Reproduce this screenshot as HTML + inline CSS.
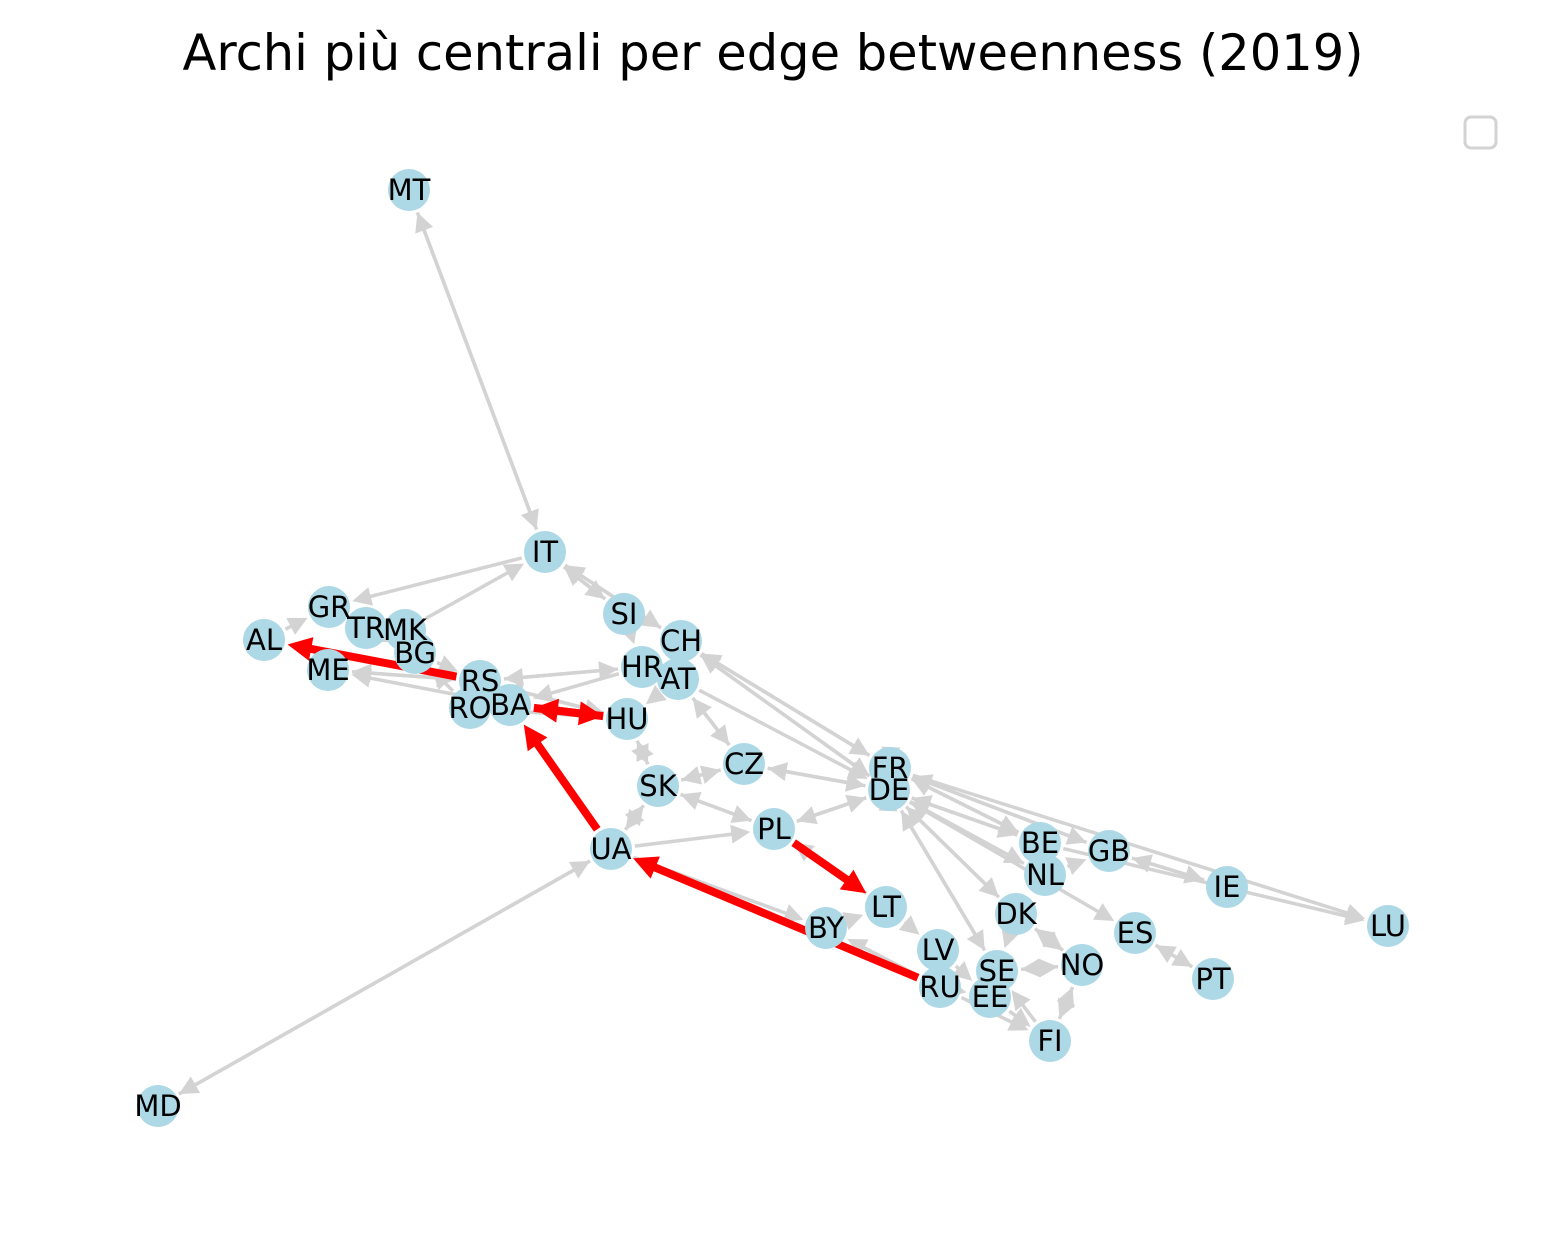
<!DOCTYPE html>
<html><head><meta charset="utf-8"><style>
html,body{margin:0;padding:0;background:#fff}
svg{display:block}
text{font-family:"DejaVu Sans","Liberation Sans",sans-serif}
</style></head><body>
<svg id="chart" width="1548" height="1233" viewBox="0 0 1548 1233">
<rect width="1548" height="1233" fill="#fff"/>
<text x="773" y="70" font-size="49.5" text-anchor="middle">Archi più centrali per edge betweenness (2019)</text>
<rect x="1465" y="117" width="31" height="31" rx="6" fill="#fff" stroke="#d3d3d3" stroke-width="3"/>
<g id="edges"></g><g id="nodes"></g>
</svg>
<script>
const nodeIds=["MT","IT","SI","CH","GR","TR","MK","AL","BG","ME","RS","HR","AT","RO","BA","HU","CZ","FR","DE","SK","PL","UA","BE","GB","NL","IE","LT","LU","BY","DK","ES","LV","NO","SE","PT","RU","EE","FI","MD"];
const layoutX=[409,545,624,681,329,366,405,264,415,328,480,642,678,470,510,627,744,890,889,658,774,611,1040,1109,1045,1227,886,1388,826,1016,1135,938,1082,997,1213,940,990,1050,158];
const layoutY=[190,552,614,641,607,628,630,640,653,670,681,667,679,708,705,719,764,768,790,786,829,849,843,851,875,887,907,926,928,914,933,950,965,971,979,987,997,1041,1106];
const grayEdges=[["MT","IT"],["IT","MT"],["UA","MD"],["MD","UA"],["IT","GR"],["MK","IT"],["SI","IT"],["IT","SI"],["CH","IT"],["IT","CH"],["CH","FR"],["CH","DE"],["DE","CH"],["AT","DE"],["FR","CH"],["HR","RS"],["RS","HR"],["HR","BA"],["HU","RS"],["RS","HU"],["HU","SK"],["SK","HU"],["UA","SK"],["SK","UA"],["UA","PL"],["UA","BY"],["CZ","SK"],["SK","CZ"],["DE","CZ"],["CZ","DE"],["PL","DE"],["DE","PL"],["PL","SK"],["SK","PL"],["BY","LT"],["LT","LV"],["LV","EE"],["EE","FI"],["FI","SE"],["SE","NO"],["NO","SE"],["NO","DK"],["DK","NO"],["DE","DK"],["DK","DE"],["DE","NL"],["NL","DE"],["DE","BE"],["BE","DE"],["FR","BE"],["BE","FR"],["FR","GB"],["GB","FR"],["GB","IE"],["IE","GB"],["DE","ES"],["ES","PT"],["PT","ES"],["FR","LU"],["BE","LU"],["NL","GB"],["NO","FI"],["FI","NO"],["DE","SE"],["SE","DE"],["RU","LV"],["RU","FI"],["RU","EE"],["AL","GR"],["RS","ME"],["ME","RS"],["BG","RS"],["RO","BG"],["HU","RO"],["BA","ME"],["AT","HU"],["HR","AT"],["CZ","AT"],["AT","CZ"],["SI","HR"],["MK","BG"],["TR","BG"],["BG","TR"],["DK","SE"],["LT","PL"],["RU","BY"],["FR","DE"],["DE","FR"]];
const redEdges=[["RS","AL"],["HU","BA"],["BA","HU"],["UA","BA"],["PL","LT"],["RU","UA"]];
const NS="http://www.w3.org/2000/svg";
function px(id){return layoutX[nodeIds.indexOf(id)];}
function py(id){return layoutY[nodeIds.indexOf(id)];}
const eg=document.getElementById('edges'),ng=document.getElementById('nodes');
function drawEdge(a,b,color,w,ah){
 const x1=px(a),y1=py(a),x2=px(b),y2=py(b);
 const dx=x2-x1,dy=y2-y1,L=Math.hypot(dx,dy),ux=dx/L,uy=dy/L;
 const sx=x1+ux*24,sy=y1+uy*24,tx=x2-ux*24,ty=y2-uy*24;
 const bx=tx-ux*ah,by=ty-uy*ah;
 const ln=document.createElementNS(NS,'line');
 ln.setAttribute('x1',sx);ln.setAttribute('y1',sy);ln.setAttribute('x2',bx+ux*2);ln.setAttribute('y2',by+uy*2);
 ln.setAttribute('stroke',color);ln.setAttribute('stroke-width',w);
 
 
 eg.appendChild(ln);
 const hw=ah*0.5;
 const p=document.createElementNS(NS,'polygon');
 p.setAttribute('points',tx+','+ty+' '+(bx-uy*hw)+','+(by+ux*hw)+' '+(bx+uy*hw)+','+(by-ux*hw));
 p.setAttribute('fill',color);
 
 
 eg.appendChild(p);
}
grayEdges.forEach(e=>drawEdge(e[0],e[1],'#d3d3d3',3.5,19));
redEdges.forEach(e=>drawEdge(e[0],e[1],'#ff0000',8,24));
nodeIds.forEach((id,i)=>{
 const c=document.createElementNS(NS,'circle');
 c.setAttribute('cx',layoutX[i]);c.setAttribute('cy',layoutY[i]);c.setAttribute('r',21);c.setAttribute('fill','#add8e6');
 
 
 ng.appendChild(c);
});
nodeIds.forEach((id,i)=>{
 const t=document.createElementNS(NS,'text');
 t.setAttribute('x',layoutX[i]);t.setAttribute('y',layoutY[i]+10);t.setAttribute('font-size','29');t.setAttribute('text-anchor','middle');
 t.textContent=id;
 
 
 ng.appendChild(t);
});
</script>
</body></html>
